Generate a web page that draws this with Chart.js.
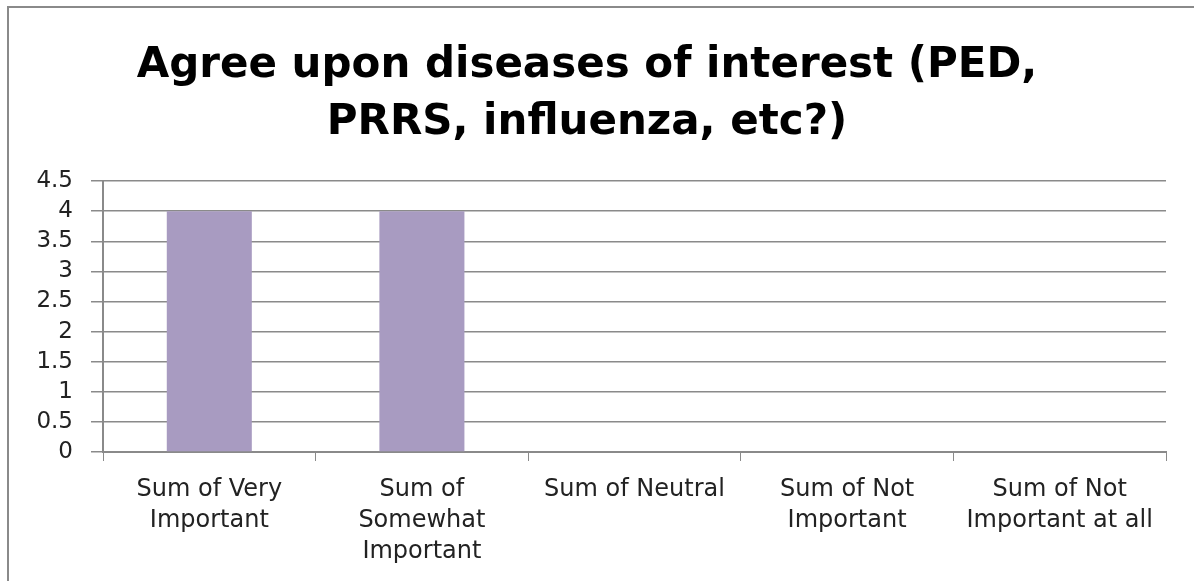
<!DOCTYPE html>
<html>
<head>
<meta charset="utf-8">
<script src="https://cdn.jsdelivr.net/npm/chart.js@4"></script>
<style>
  html, body { margin: 0; padding: 0; background: #fff; }
  #wrap { position: relative; width: 1194px; height: 581px; }
  #frame {
    position: absolute; left: 7px; top: 6px; width: 1200px; height: 600px;
    border-left: 2px solid #8a8a8a; border-top: 2px solid #8a8a8a;
    pointer-events: none;
  }
  canvas { position: absolute; left: 0; top: 0; }
</style>
</head>
<body>
<div id="wrap">
  <canvas id="chart" width="1194" height="581"></canvas>
  <div id="frame"></div>
</div>
<script>
const titleLines = ['Agree upon diseases of interest (PED,', 'PRRS, influenza, etc?)'];
const categories = [
  ['Sum of Very', 'Important'],
  ['Sum of', 'Somewhat', 'Important'],
  ['Sum of Neutral'],
  ['Sum of Not', 'Important'],
  ['Sum of Not', 'Important at all']
];
const values = [4, 4, 0, 0, 0];
const yTicks = [0, 0.5, 1, 1.5, 2, 2.5, 3, 3.5, 4, 4.5];

const ctx = document.getElementById('chart').getContext('2d');
new Chart(ctx, {
  type: 'bar',
  data: {
    labels: categories,
    datasets: [{
      data: values,
      backgroundColor: '#A89BC1',
      borderWidth: 0,
      barPercentage: 0.4,
      categoryPercentage: 1
    }]
  },
  options: {
    responsive: false,
    animation: false,
    layout: { padding: { left: 8, right: 28, top: 0, bottom: 0 } },
    plugins: {
      legend: { display: false },
      tooltip: { enabled: false },
      title: {
        display: true,
        text: titleLines,
        color: '#000',
        font: { family: 'DejaVu Sans', size: 42, weight: 'bold', lineHeight: 1.37 },
        padding: { top: 37, bottom: 29 }
      }
    },
    scales: {
      x: {
        grid: { drawOnChartArea: false, offset: true, tickLength: 9, color: '#8a8a8a' },
        border: { color: '#8a8a8a', width: 2 },
        ticks: {
          color: '#222',
          font: { family: 'DejaVu Sans', size: 24, lineHeight: 1.3 },
          maxRotation: 0, autoSkip: false, padding: 13
        },
        afterFit: (s) => { s.height = 129; }
      },
      y: {
        min: 0, max: 4.5,
        afterBuildTicks: (s) => { s.ticks = yTicks.map(v => ({ value: v })); },
        grid: { color: '#8a8a8a', tickLength: 12, lineWidth: 1.5 },
        border: { color: '#8a8a8a', width: 2 },
        ticks: {
          color: '#222',
          font: { family: 'DejaVu Sans', size: 23 },
          padding: 18,
          autoSkip: false,
          callback: (v) => String(v)
        },
        afterFit: (s) => { s.width = 95; }
      }
    }
  }
});
</script>
</body>
</html>
